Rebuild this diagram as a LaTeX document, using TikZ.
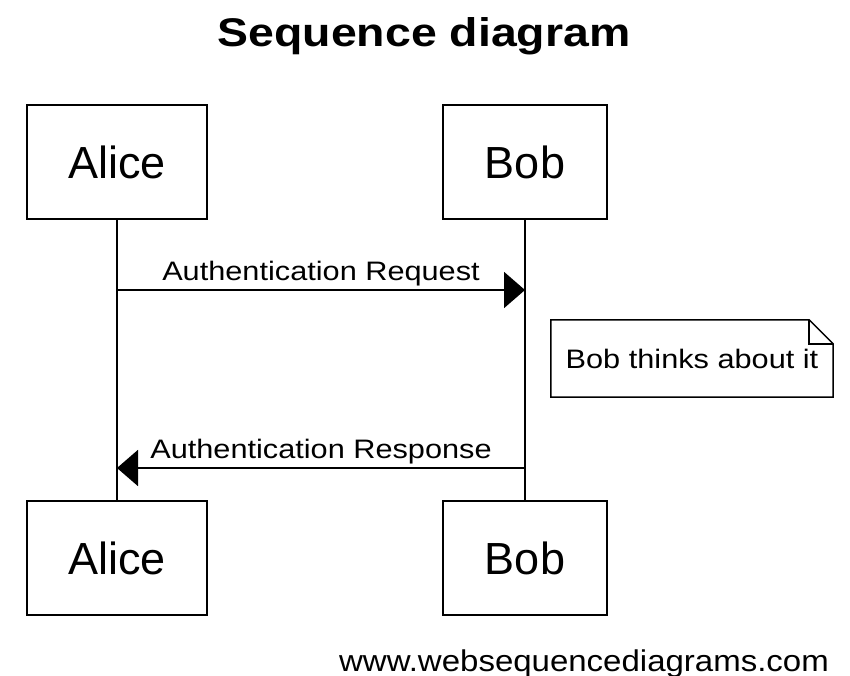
\documentclass[tikz,border=0pt]{standalone}
\usepackage{fontspec}
\setmainfont{Liberation Sans}
\newfontfamily\msgfont[FakeStretch=1.15]{Liberation Sans}
\newfontfamily\ttlfont[FakeStretch=1.16]{Liberation Sans}
\newfontfamily\ftrfont[FakeStretch=1.1]{Liberation Sans}
\usetikzlibrary{arrows.meta}
\tikzset{
  actor/.style={draw, line width=1.8pt, minimum height=114pt, inner sep=0pt, font=\fontsize{45}{54}\selectfont},
  lifeline/.style={line width=1.8pt},
  msg/.style={line width=1.8pt, -{Triangle[length=21pt,width=36pt]}},
  msglabel/.style={anchor=base, inner sep=0pt, font=\msgfont\fontsize{26.7}{32}\selectfont},
  notebox/.style={line width=1.5pt},
}
\begin{document}
\begin{tikzpicture}[x=1pt,y=-1pt]
\useasboundingbox (0,0) rectangle (850,676);
% title
\node[anchor=base, inner sep=0pt, font=\ttlfont\bfseries\fontsize{40}{48}\selectfont] (title) at (424,47) {Sequence diagram};
% actors
\node[actor, minimum width=180pt] (aliceTop) at (117,162) {Alice};
\node[actor, minimum width=164pt] (bobTop) at (525,162) {Bob};
\node[actor, minimum width=180pt] (aliceBot) at (117,558) {Alice};
\node[actor, minimum width=164pt] (bobBot) at (525,558) {Bob};
% lifelines
\draw[lifeline] (aliceTop.south) -- (aliceBot.north);
\draw[lifeline] (bobTop.south) -- (bobBot.north);
% message coordinates
\coordinate (a1) at (aliceTop.south |- 0,290);
\coordinate (b1) at (bobTop.south |- 0,290);
\coordinate (a2) at (aliceTop.south |- 0,468);
\coordinate (b2) at (bobTop.south |- 0,468);
\draw[msg] (a1) -- (b1);
\node[msglabel] (req) at (321,280) {Authentication Request};
\draw[msg] (b2) -- (a2);
\node[msglabel] (resp) at (321,458) {Authentication Response};
% note
\node[minimum width=282pt, minimum height=77pt, inner sep=0pt, font=\msgfont\fontsize{26.7}{32}\selectfont] (note) at (692,358.5) {Bob thinks about it};
\draw[notebox] (note.north west) -- ([xshift=-24pt]note.north east) -- ([yshift=-24pt]note.north east) -- (note.south east) -- (note.south west) -- cycle;
\draw[notebox] ([xshift=-24pt]note.north east) |- ([yshift=-24pt]note.north east);
% footer
\node[anchor=base, inner sep=0pt, font=\ftrfont\fontsize{30}{36}\selectfont] (footer) at (584,671) {www.websequencediagrams.com};
\end{tikzpicture}
\end{document}
